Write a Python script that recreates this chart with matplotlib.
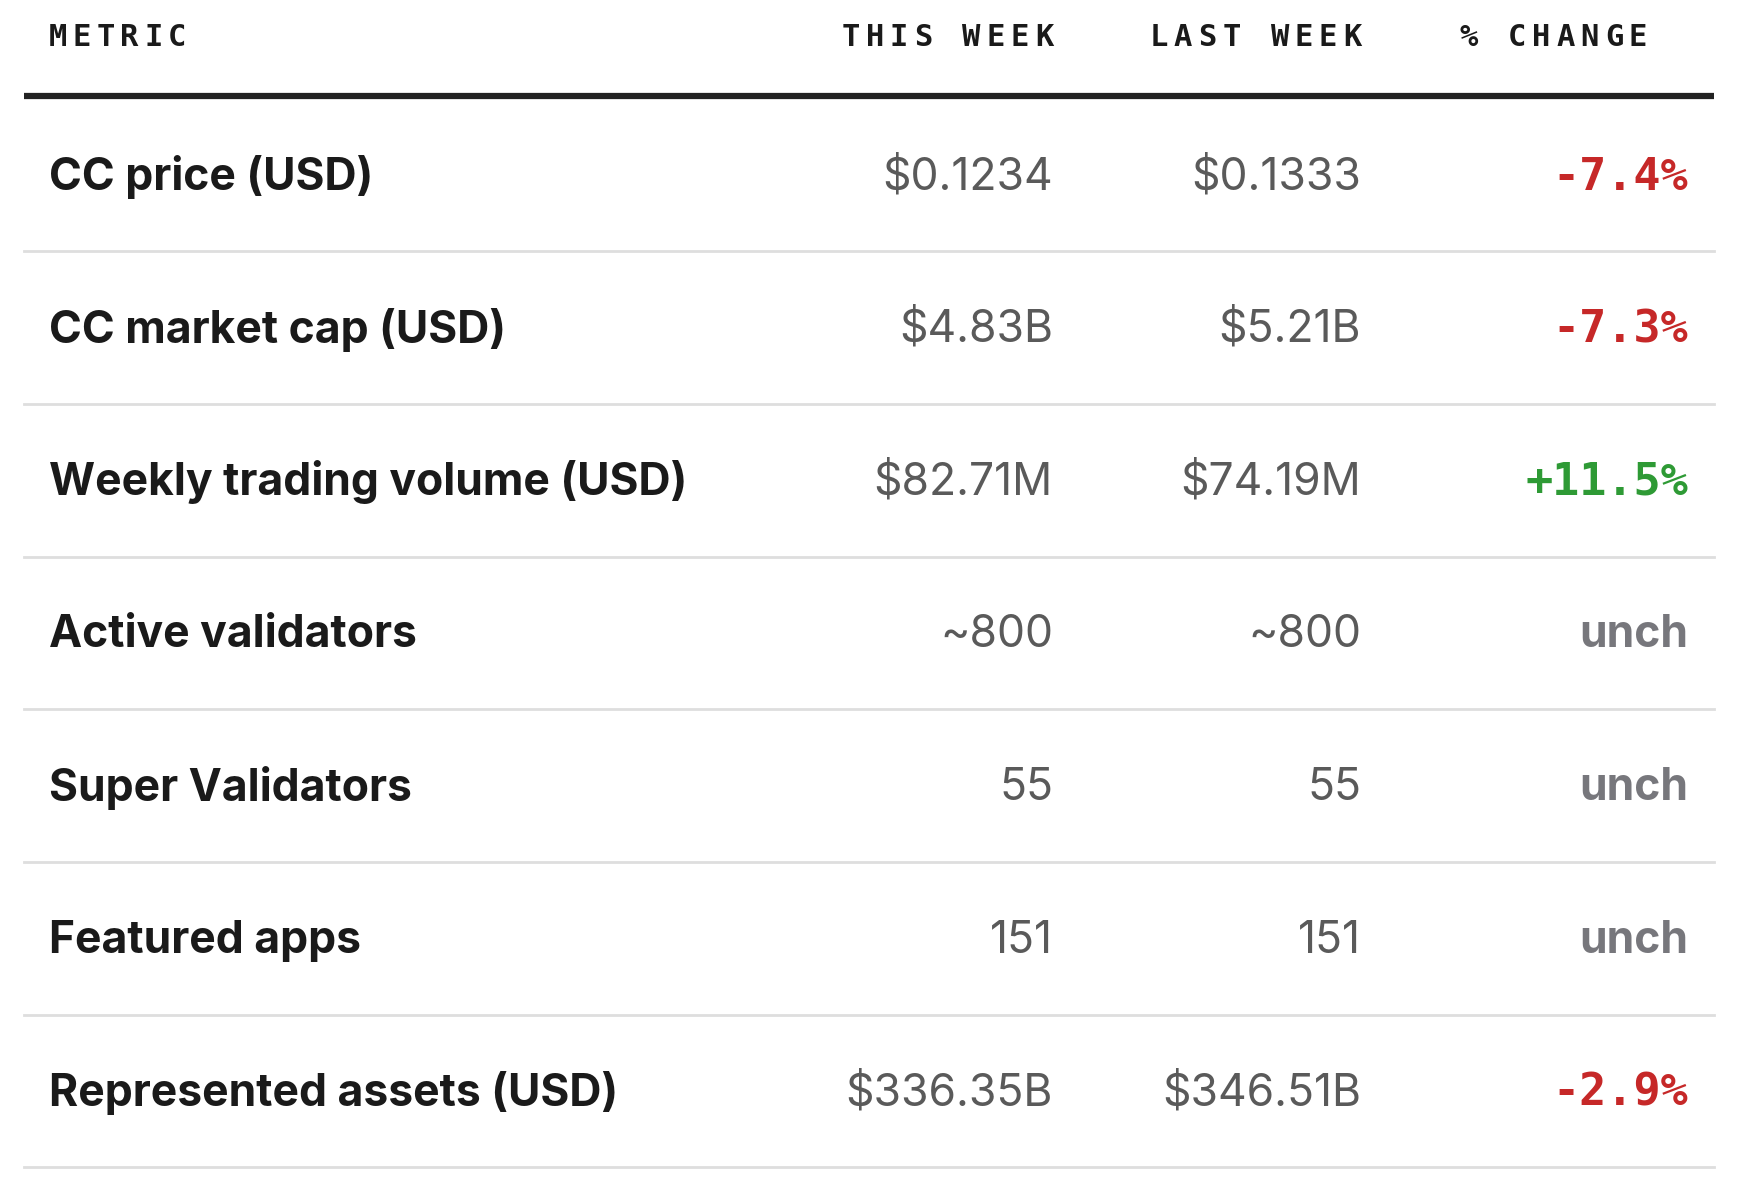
import matplotlib
matplotlib.use("Agg")
import matplotlib.pyplot as plt

metrics = ["CC price (USD)", "CC market cap (USD)", "Weekly trading volume (USD)",
           "Active validators", "Super Validators", "Featured apps", "Represented assets (USD)"]
this_week = ["$0.1234", "$4.83B", "$82.71M", "~800", "55", "151", "$336.35B"]
last_week = ["$0.1333", "$5.21B", "$74.19M", "~800", "55", "151", "$346.51B"]
changes = ["-7.4%", "-7.3%", "+11.5%", "unch", "unch", "unch", "-2.9%"]
headers = ["METRIC", "THIS WEEK", "LAST WEEK", "% CHANGE"]

W, H = 1738, 1195
fig = plt.figure(figsize=(W / 100, H / 100), dpi=100)
ax = fig.add_axes([0, 0, 1, 1])
ax.set_xlim(0, 1568)
ax.set_ylim(1080, 0)
ax.axis("off")

def spaced(x, y, s, adv, align="left", **kw):
    n = len(s)
    if align == "right":
        x = x - adv * n + adv * 0.25
    for i, c in enumerate(s):
        ax.text(x + i * adv, y, c, ha="left", va="center", **kw)

hx = [44, 950, 1228, 1486]
hk = dict(fontsize=22, fontweight="bold", family="DejaVu Sans Mono", color="#1a1a1a")
spaced(hx[0], 34, headers[0], 21.5, **hk)
for x, h in zip(hx[1:], headers[1:]):
    spaced(x, 34, h, 21.8, align="right", **hk)

ax.plot([22, 1546], [87, 87], color="#222222", lw=4.5, solid_capstyle="butt")
row0, step = 158, 138
for i, m in enumerate(metrics):
    y = row0 + i * step
    ty = y + 2
    ax.text(44, ty, m, ha="left", va="center", fontsize=32, fontweight="bold",
            family="Inter", color="#1a1a1a")
    ax.text(950, ty, this_week[i], ha="right", va="center", fontsize=32,
            family="Inter", color="#5a5a5a")
    ax.text(1228, ty, last_week[i], ha="right", va="center", fontsize=32,
            family="Inter", color="#5a5a5a")
    c = changes[i]
    if c == "unch":
        ax.text(1523, ty, c, ha="right", va="center", fontsize=32, fontweight="bold",
                family="Inter", color="#77777c")
    else:
        col = "#c62828" if c.startswith("-") else "#2e9a35"
        ax.text(1523, ty, c, ha="right", va="center", fontsize=32.5, fontweight="bold",
                family="DejaVu Sans Mono", color=col)
    ax.plot([22, 1546], [y + 69, y + 69], color="#dedede", lw=2)

fig.savefig("out.png", dpi=100, facecolor="white")
